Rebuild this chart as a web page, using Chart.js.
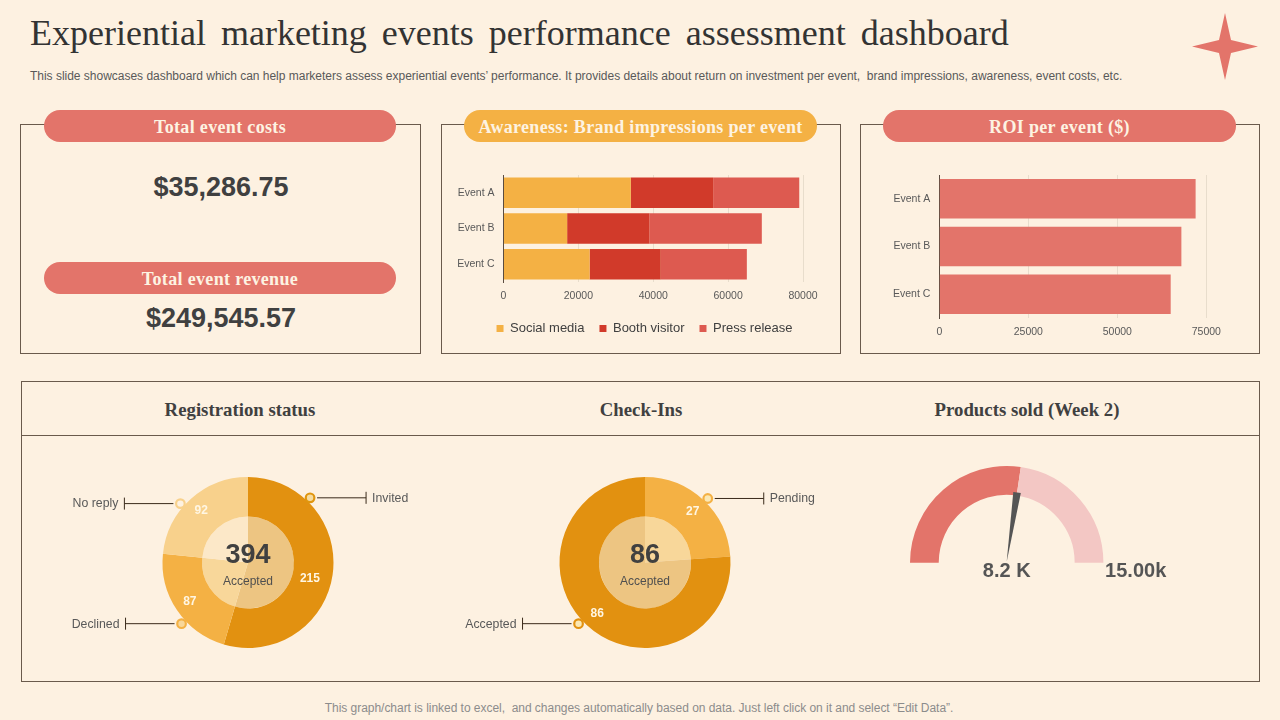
<!DOCTYPE html>
<html><head><meta charset="utf-8">
<script src="https://cdn.jsdelivr.net/npm/chart.js@4"></script>
<style>
html,body{margin:0;padding:0;background:#fdf1e1;}
body{width:1280px;height:720px;position:relative;overflow:hidden;font-family:"Liberation Sans",Arial,sans-serif;}
.abs{position:absolute;white-space:nowrap;}
.panel{position:absolute;border:1px solid #6a5a4c;box-sizing:border-box;}
.pill{position:absolute;height:32px;border-radius:16px;color:#fdf3e2;font:bold 18px/34px "Liberation Serif",serif;text-align:center;letter-spacing:.33px;}
.red{background:#e3746a;}.amber{background:#f4b144;}
.big{position:absolute;font:bold 27px/32px "Liberation Sans",sans-serif;color:#404040;text-align:center;width:352px;left:45px;}
.head{position:absolute;font:bold 18.8px/24px "Liberation Serif",serif;color:#404040;text-align:center;width:400px;top:398px;}
canvas{position:absolute;}
</style></head><body>
<div class="abs" style="left:30px;top:11px;font:36px/44px 'Liberation Serif',serif;color:#333;word-spacing:6px;" id="title">Experiential marketing events performance assessment dashboard</div>
<div class="abs" style="left:30px;top:69px;font:12px/15px 'Liberation Sans',sans-serif;color:#595959;letter-spacing:-.016px;">This slide showcases dashboard which can help marketers assess experiential events’ performance. It provides details about return on investment per event,&nbsp; brand impressions, awareness, event costs, etc.</div>
<svg class="abs" style="left:1190px;top:11px" width="70" height="72" viewBox="0 0 70 72"><polygon points="35,2 41,29 68,35.5 41,42 35,69 29,42 2,35.5 29,29" fill="#e3746a"/></svg>

<div class="panel" style="left:20px;top:124px;width:401px;height:230px"></div>
<div class="panel" style="left:441px;top:124px;width:400px;height:230px"></div>
<div class="panel" style="left:860px;top:124px;width:400px;height:230px"></div>
<div class="pill red" style="left:44px;top:110px;width:352px">Total event costs</div>
<div class="pill amber" style="left:464px;top:110px;width:353px">Awareness: Brand impressions per event</div>
<div class="pill red" style="left:883px;top:110px;width:353px">ROI per event ($)</div>
<div class="big" style="top:171px">$35,286.75</div>
<div class="pill red" style="left:44px;top:262px;width:352px">Total event revenue</div>
<div class="big" style="top:302px">$249,545.57</div>

<div class="panel" style="left:21px;top:381px;width:1239px;height:301px"></div>
<div class="abs" style="left:21px;top:435px;width:1239px;height:1px;background:#6a5a4c"></div>
<div class="head" style="left:40px">Registration status</div>
<div class="head" style="left:441px">Check-Ins</div>
<div class="head" style="left:827px">Products sold (Week 2)</div>
<div class="abs" style="left:0;width:1278px;text-align:center;top:701px;font:12px/15px 'Liberation Sans',sans-serif;color:#8c8c8c;letter-spacing:-.03px;">This graph/chart is linked to excel,&nbsp; and changes automatically based on data. Just left click on it and select “Edit Data”.</div>

<canvas id="impressions" style="left:446px;top:165px" width="394" height="185"></canvas>
<canvas id="roi" style="left:861px;top:165px" width="398" height="185"></canvas>
<canvas id="registration" style="left:60px;top:460px" width="360" height="200"></canvas>
<canvas id="checkins" style="left:460px;top:460px" width="370" height="200"></canvas>
<canvas id="gauge" style="left:880px;top:450px" width="300" height="140"></canvas>

<script>
const events = ["Event A", "Event B", "Event C"];
const socialMedia = [34000, 17000, 23000];
const boothVisitor = [22000, 22000, 19000];
const pressRelease = [23000, 30000, 23000];
const roiValues = [72000, 68000, 65000];
const registrationLabels = ["Invited", "Declined", "No reply"];
const registrationValues = [215, 87, 92];
const registrationAccepted = 394;
const checkinLabels = ["Pending", "Accepted"];
const checkinValues = [27, 86];
const checkinAccepted = 86;
const gaugeValue = 8.2;
const gaugeMax = 15;

const DARK = "#e29110", MID = "#f4b144", LIGHT = "#f8d18c";
const IDARK = "#edc582", IMID = "#f8d79a", ILIGHT = "#fce8c8";
const TEXT = "#595959";
Chart.defaults.animation = false;
Chart.defaults.font.family = '"Liberation Sans", Arial, sans-serif';
Chart.defaults.plugins.tooltip.enabled = false;
Chart.defaults.events = [];

function barOptions(pad, yWidth, xHeight, max, step, legend) {
  return {
    indexAxis: "y", responsive: false, maintainAspectRatio: false,
    layout: { padding: pad },
    plugins: { legend },
    scales: {
      x: { stacked: true, min: 0, max, position: "bottom",
        ticks: { stepSize: step, padding: 7.5, color: TEXT, font: { size: 10.5 }, maxRotation: 0, autoSkip: false,
                 callback: v => String(v) },
        grid: { color: "#e8ddcc", drawTicks: false, lineWidth: 1 },
        border: { display: false },
        afterFit: s => { s.height = xHeight; } },
      y: { stacked: true,
        ticks: { padding: 9, color: TEXT, font: { size: 10.5 } },
        grid: { display: false, drawTicks: false },
        border: { display: true, color: "#5a4c40", width: 1 },
        afterFit: s => { s.width = yWidth; s.paddingTop = 0; s.paddingBottom = 0; } }
    }
  };
}

new Chart("impressions", {
  type: "bar",
  plugins: [{
    id: "legendShift",
    afterLayout(chart) { chart.legend.left += 20; chart.legend.right += 20; }
  }],
  data: { labels: events, datasets: [
    { label: "Social media", data: socialMedia, backgroundColor: MID, barPercentage: .855, categoryPercentage: 1 },
    { label: "Booth visitor", data: boothVisitor, backgroundColor: "#d13a2a", barPercentage: .855, categoryPercentage: 1 },
    { label: "Press release", data: pressRelease, backgroundColor: "#dd5a50", barPercentage: .855, categoryPercentage: 1 }
  ]},
  options: barOptions({ left: 0, right: 37, top: 10, bottom: 5 }, 57.5, 25, 80000, 20000,
    { display: true, position: "bottom",
      labels: { boxWidth: 7, boxHeight: 7, padding: 15, color: "#404040", font: { size: 13 } } })
});

new Chart("roi", {
  type: "bar",
  data: { labels: events, datasets: [
    { label: "ROI", data: roiValues, backgroundColor: "#e3746a", barPercentage: .83, categoryPercentage: 1 }
  ]},
  options: barOptions({ left: 0, right: 52.7, top: 10, bottom: 0 }, 78.3, 32, 75000, 25000, { display: false })
});

const CALL_R = 90, LEAD = 49, GAP = 7, VALUE_R = 70;
const donutPlugin = {
  id: "donutText",
  afterDatasetsDraw(chart, _a, o) {
    const ctx = chart.ctx;
    const cx = (chart.chartArea.left + chart.chartArea.right) / 2;
    const cy = (chart.chartArea.top + chart.chartArea.bottom) / 2;
    ctx.save();
    ctx.textBaseline = "middle";
    const arcs = chart.getDatasetMeta(0).data;
    ctx.font = "bold 12px 'Liberation Sans'";
    ctx.fillStyle = "#fff6e3";
    ctx.textAlign = "center";
    arcs.forEach((a, i) => {
      const s = (o.valueShift && o.valueShift[i]) || { dr: 0, deg: 0 };
      const mid = (a.startAngle + a.endAngle) / 2 + s.deg * Math.PI / 180;
      const r = VALUE_R + s.dr;
      ctx.fillText(chart.data.datasets[0].data[i], cx + r * Math.cos(mid), cy + r * Math.sin(mid));
    });
    ctx.fillStyle = "#404040";
    ctx.font = "bold 27px 'Liberation Sans'";
    ctx.fillText(o.center, cx, cy - 7);
    ctx.font = "12px 'Liberation Sans'";
    ctx.fillStyle = "#4f4f4f";
    ctx.fillText("Accepted", cx, cy + 19);
    o.callouts.forEach(c => {
      const a = (c.deg - 90) * Math.PI / 180;
      const x = cx + CALL_R * Math.cos(a), y = cy + CALL_R * Math.sin(a) + 0.5;
      const d = Math.cos(a) > 0 ? 1 : -1;
      ctx.strokeStyle = "#3a2a1a"; ctx.lineWidth = 1;
      ctx.beginPath();
      ctx.moveTo(x + d * GAP, y); ctx.lineTo(x + d * (GAP + LEAD), y);
      ctx.moveTo(x + d * (GAP + LEAD), y - 6); ctx.lineTo(x + d * (GAP + LEAD), y + 6);
      ctx.stroke();
      ctx.beginPath(); ctx.arc(x, y, 4.3, 0, Math.PI * 2);
      ctx.fillStyle = c.fill; ctx.fill();
      ctx.strokeStyle = c.ring; ctx.lineWidth = 2.2; ctx.stroke();
      ctx.fillStyle = TEXT;
      ctx.font = "12.3px 'Liberation Sans'";
      ctx.textAlign = d > 0 ? "left" : "right";
      ctx.fillText(c.text, x + d * (GAP + LEAD + 6), y + 0.5);
    });
    ctx.restore();
  }
};

function donut(id, labels, values, outer, inner, pad, center, callouts, valueShift) {
  new Chart(id, {
    type: "doughnut",
    plugins: [donutPlugin],
    data: { labels, datasets: [
      { data: values, backgroundColor: outer, borderWidth: 0, weight: 39.5 },
      { data: values, backgroundColor: inner, borderWidth: 0, weight: 46 }
    ]},
    options: { responsive: false, maintainAspectRatio: false, cutout: 0, layout: { padding: pad },
      plugins: { legend: { display: false }, donutText: { center, callouts, valueShift } } }
  });
}

donut("registration", registrationLabels, registrationValues, [DARK, MID, LIGHT], [IDARK, IMID, ILIGHT],
  { left: 102.5, right: 86.5, top: 17, bottom: 12 }, String(registrationAccepted), [
    { text: registrationLabels[0], deg: 43.6, ring: "#e0960f", fill: "#f6dca0" },
    { text: registrationLabels[1], deg: 227.6, ring: "#f4b144", fill: "#f8d79a" },
    { text: registrationLabels[2], deg: 311.3, ring: "#f8d18c", fill: "#fdf1e1" }
  ], [{ dr: -6, deg: 6.5 }]);
donut("checkins", checkinLabels, checkinValues, [MID, DARK], [IMID, IDARK],
  { left: 99.5, right: 99.5, top: 17, bottom: 12 }, String(checkinAccepted), [
    { text: checkinLabels[0], deg: 44.2, ring: "#f4b144", fill: "#fbe8b4" },
    { text: checkinLabels[1], deg: 227.6, ring: "#e29110", fill: "#fbe8b4" }
  ]);

new Chart("gauge", {
  type: "doughnut",
  plugins: [{
    id: "needle",
    afterDatasetsDraw(chart) {
      const ctx = chart.ctx;
      const arc = chart.getDatasetMeta(0).data[0];
      const cx = arc.x, cy = arc.y;
      const a = arc.endAngle;
      const px = -Math.sin(a), py = Math.cos(a);
      const bx = cx + 71 * Math.cos(a), by = cy + 71 * Math.sin(a);
      ctx.save();
      ctx.fillStyle = "#555555";
      ctx.beginPath();
      ctx.moveTo(cx, cy - 1);
      ctx.lineTo(bx + 3.8 * px, by + 3.8 * py);
      ctx.lineTo(bx - 3.8 * px, by - 3.8 * py);
      ctx.closePath(); ctx.fill();
      ctx.font = "bold 20px 'Liberation Sans'";
      ctx.textAlign = "center"; ctx.textBaseline = "middle";
      ctx.fillText(gaugeValue.toFixed(1) + " K", cx, cy + 9);
      ctx.fillText(gaugeMax.toFixed(2) + "k", cx + 129, cy + 9);
      ctx.restore();
    }
  }],
  data: { labels: ["Sold", "Remaining"], datasets: [
    { data: [gaugeValue, gaugeMax - gaugeValue], backgroundColor: ["#e3746a", "#f3c7c4"], borderWidth: 0 }
  ]},
  options: { responsive: false, maintainAspectRatio: false, rotation: -90, circumference: 180, cutout: "70.3%",
    layout: { padding: { left: 30, right: 76.6, top: 16, bottom: 27.3 } },
    plugins: { legend: { display: false } } }
});
</script>
</body></html>
